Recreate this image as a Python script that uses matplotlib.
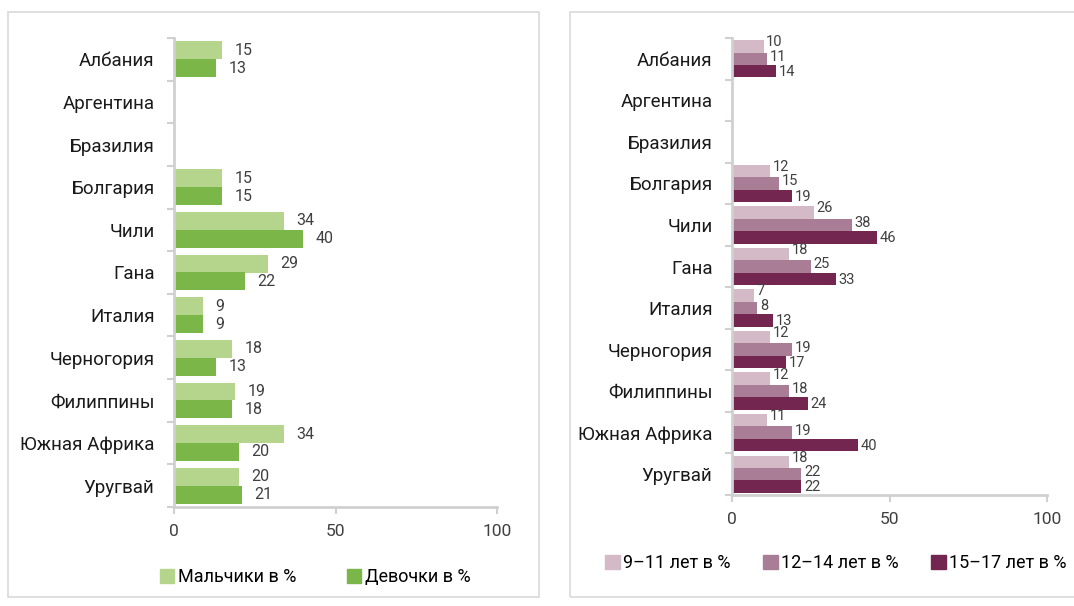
import matplotlib
matplotlib.use("Agg")
import matplotlib.pyplot as plt
from matplotlib.patches import Rectangle, Patch

plt.rcParams['font.family'] = ['Roboto', 'DejaVu Sans']

countries = ["Албания", "Аргентина", "Бразилия", "Болгария", "Чили", "Гана",
             "Италия", "Черногория", "Филиппины", "Южная Африка", "Уругвай"]

# left chart: by sex (None = no data)
boys = [15, None, None, 15, 34, 29, 9, 18, 19, 34, 20]
girls = [13, None, None, 15, 40, 22, 9, 13, 18, 20, 21]
sex_labels = ["Мальчики в %", "Девочки в %"]

# right chart: by age group
age_9_11 = [10, None, None, 12, 26, 18, 7, 12, 12, 11, 18]
age_12_14 = [11, None, None, 15, 38, 25, 8, 19, 18, 19, 22]
age_15_17 = [14, None, None, 19, 46, 33, 13, 17, 24, 40, 22]
age_labels = ["9\u201311 лет в %", "12\u201314 лет в %", "15\u201317 лет в %"]

W, H = 1074, 606
fig = plt.figure(figsize=(W / 100, H / 100), dpi=100)

def px_rect(x0, y0, x1, y1):
    return [x0 / W, 1 - y1 / H, (x1 - x0) / W, (y1 - y0) / H]

# panel frames
for x0, x1 in [(8, 539), (570, 1080)]:
    l, b, w, h = px_rect(x0, 12, x1, 597)
    fig.patches.append(Rectangle((l, b), w, h, transform=fig.transFigure,
                                 fill=False, edgecolor="#d9d9d9", lw=1.2))

axis_col = "#d0d0d0"
label_col = "#404040"


def style_axis(ax, n):
    ax.set_xlim(0, 100)
    ax.set_ylim(n - 0.5, -0.5)
    for s in ["top", "right"]:
        ax.spines[s].set_visible(False)
    for s in ["left", "bottom"]:
        ax.spines[s].set_color(axis_col)
        ax.spines[s].set_linewidth(2)
    ax.set_xticks([0, 50, 100])
    ax.tick_params(axis="x", colors=axis_col, length=5, width=1.5,
                   labelcolor=label_col, labelsize=12.5, pad=7)
    ax.set_yticks(range(n))
    ax.set_yticklabels(countries, fontsize=13.5, color="#1a1a1a")
    ax.tick_params(axis="y", which="major", length=0, pad=14)
    ax.set_yticks([i - 0.5 for i in range(n + 1)], minor=True)
    ax.tick_params(axis="y", which="minor", length=5, width=1.5, colors=axis_col)


def draw(ax, series, colors, h, dx, dys, fs):
    n = len(countries)
    k = len(series)
    for j, (vals, col) in enumerate(zip(series, colors)):
        pos = [i + (j - (k - 1) / 2) * h for i in range(n)]
        for p, v in zip(pos, vals):
            if v is None:
                continue
            ax.barh(p, v, height=h, color=col)
            ax.annotate(str(v), (v, p), xytext=(dx, dys[j]), textcoords="offset points",
                        va="center", ha="left", fontsize=fs, color=label_col)


ax1 = fig.add_axes(px_rect(174, 38, 497, 507))
green = ["#b5d58c", "#7ab648"]
draw(ax1, [boys, girls], green, 0.42, 9, [0, 0], 11.5)
style_axis(ax1, len(countries))
fig.legend(handles=[Patch(color=c, label=l) for c, l in zip(green, sex_labels)],
           loc="center", bbox_to_anchor=(315 / W, 1 - 577 / H), ncol=2, frameon=False,
           fontsize=13, handlelength=0.8, handleheight=0.8, handletextpad=0.2,
           columnspacing=2.8)

ax2 = fig.add_axes(px_rect(732, 38, 1047, 495))
plum = ["#d4b9c7", "#a97d95", "#73264f"]
draw(ax2, [age_9_11, age_12_14, age_15_17], plum, 0.3, 2, [3, 1.5, -0.5], 10.5)
style_axis(ax2, len(countries))
fig.legend(handles=[Patch(color=c, label=l) for c, l in zip(plum, age_labels)],
           loc="center", bbox_to_anchor=(836 / W, 1 - 563 / H), ncol=3, frameon=False,
           fontsize=13, handlelength=0.8, handleheight=0.8, handletextpad=0.2,
           columnspacing=1.8)

fig.savefig("out.png", dpi=100)
